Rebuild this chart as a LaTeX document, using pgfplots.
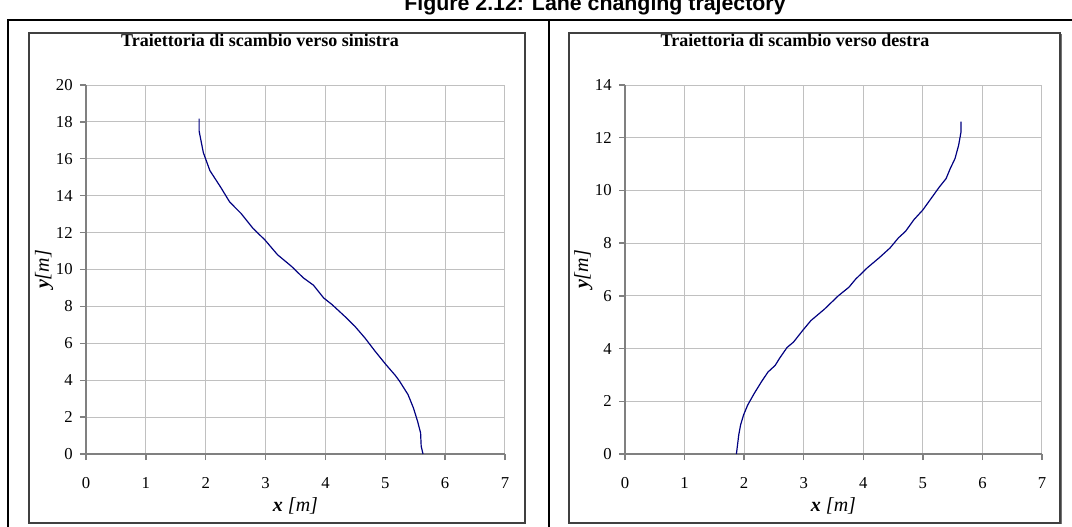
\documentclass[border=0pt]{standalone}
\usepackage{fontspec}
\setmainfont{Liberation Serif}
\newfontfamily\arialfont{Liberation Sans}
\usepackage{pgfplots}
\pgfplotsset{compat=1.18}
\definecolor{gridgray}{HTML}{C0C0C0}
\definecolor{axgray}{HTML}{808080}
\definecolor{navyc}{HTML}{000080}

\pgfplotstableread{
x y
1.89 18.18
1.89 17.50
1.96 16.34
2.07 15.36
2.25 14.46
2.40 13.66
2.59 13.04
2.79 12.23
2.99 11.60
3.20 10.80
3.43 10.18
3.63 9.55
3.80 9.15
3.97 8.46
4.11 8.10
4.32 7.47
4.49 6.93
4.66 6.29
4.83 5.57
5.01 4.85
5.17 4.25
5.24 3.94
5.38 3.22
5.47 2.50
5.54 1.77
5.59 1.14
5.60 0.42
5.63 0.00
}\leftdata

\pgfplotstableread{
x y
5.64 12.61
5.64 12.21
5.60 11.71
5.54 11.21
5.46 10.83
5.39 10.45
5.28 10.14
5.14 9.70
5.00 9.26
4.85 8.89
4.71 8.45
4.59 8.20
4.45 7.82
4.27 7.45
4.07 7.07
3.87 6.63
3.76 6.33
3.58 6.00
3.35 5.50
3.12 5.06
2.98 4.68
2.83 4.25
2.72 4.04
2.60 3.65
2.52 3.36
2.40 3.11
2.29 2.74
2.17 2.30
2.06 1.86
1.99 1.48
1.94 1.10
1.91 0.73
1.87 0.00
}\rightdata

\pgfplotsset{
  lane/.style={
    scale only axis, anchor=south west,
    height=276.75pt,
    xmin=0, xmax=7, xtick={0,1,...,7},
    ymin=0,
    axis x line*=bottom, axis y line*=left,
    axis line style={axgray, line width=1.5pt, -},
    grid=major,
    major grid style={gridgray, line width=0.75pt},
    tick style={axgray, line width=1pt},
    major tick length=4.5pt,
    tick align=outside,
    /pgf/number format/assume math mode=true,
    ticklabel style={font=\fontsize{12.5}{14}\selectfont, black},
    xticklabel style={yshift=-9.5pt},
    yticklabel style={xshift=-2pt},
    xlabel={\textbf{\textit{x}} \textit{[m]}},
    ylabel={\textbf{\textit{y}}\textit{[m]}},
    label style={font=\fontsize{15}{17}\selectfont},
    xlabel style={at={(axis description cs:0.5,-0.141)}, anchor=center},
  }
}

\begin{document}
\begin{tikzpicture}[x=0.75pt, y=0.75pt]
% frames
\draw[black, line width=1.9pt] (8,-20) -- (8,506) -- (1080,506);
\draw[black, line width=1.9pt] (549,506) -- (549,-20);
\draw[black!75, line width=1pt] (29,3) rectangle (525,493);
\draw[black!75, line width=1pt] (569,3) rectangle (1060,493);
\draw[black!55, line width=1pt] (1061.5,2) -- (1061.5,492);
% main title (cut at top)
\node[font=\arialfont\bfseries\fontsize{16}{19}\selectfont, anchor=base] at (595,515) {Figure 2.12: Lane changing trajectory};
% panel titles
\node[font=\fontsize{13.5}{16}\selectfont\bfseries] at (260,486) {Traiettoria di scambio verso sinistra};
\node[font=\fontsize{13.5}{16}\selectfont\bfseries] at (795,486) {Traiettoria di scambio verso destra};

\begin{axis}[lane, at={(64.5pt,54pt)}, width=314.25pt,
  ymax=20, ytick={0,2,...,20},
  ylabel style={at={(axis description cs:-0.100,0.5)}, anchor=center, rotate=0}]
\addplot[navyc, line width=0.9pt] table[x=x,y=y] {\leftdata};
\end{axis}

\begin{axis}[lane, at={(468.75pt,54pt)}, width=312.75pt,
  ymax=14, ytick={0,2,...,14},
  ylabel style={at={(axis description cs:-0.100,0.5)}, anchor=center, rotate=0}]
\addplot[navyc, line width=0.9pt] table[x=x,y=y] {\rightdata};
\end{axis}

\pgfresetboundingbox
\path[use as bounding box] (0,0) rectangle (1072,526);
\end{tikzpicture}
\end{document}
